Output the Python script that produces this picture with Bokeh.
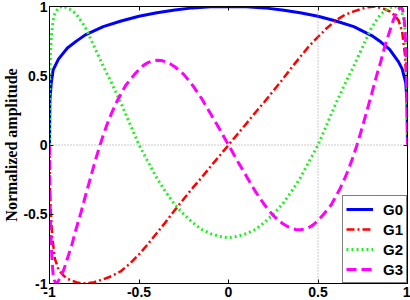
from bokeh.plotting import figure
from bokeh.models import Range1d, LinearAxis, Span, FixedTicker, Legend, LegendItem
from bokeh.embed import file_html
from bokeh.resources import INLINE

# ---- data ----
x0 = [-1, -0.998, -0.99, -0.98, -0.95, -0.9, -0.85, -0.8, -0.7, -0.6, -0.5, -0.4, -0.3, -0.2, -0.1, 0,
      0.1, 0.2, 0.3, 0.4, 0.5, 0.6, 0.7, 0.8, 0.85, 0.9, 0.95, 0.97, 0.99, 0.997, 1]
y0 = [0, 0.32, 0.45, 0.54, 0.62, 0.70, 0.75, 0.795, 0.855, 0.895, 0.93, 0.955, 0.975, 0.99, 0.998, 1,
      0.998, 0.99, 0.975, 0.955, 0.93, 0.895, 0.855, 0.79, 0.745, 0.69, 0.60, 0.55, 0.45, 0.32, 0]

x1 = [-1, -0.998, -0.995, -0.985, -0.97, -0.95, -0.92, -0.9, -0.875, -0.85, -0.82, -0.78, -0.75, -0.7, -0.65,
      -0.6, -0.55, -0.5, -0.45, -0.4, -0.35, -0.3, -0.25, -0.2, -0.15, -0.1, -0.05, 0,
      0.05, 0.1, 0.15, 0.2, 0.25, 0.3, 0.35, 0.4, 0.45, 0.5, 0.55, 0.6, 0.65, 0.7, 0.75, 0.78, 0.82,
      0.85, 0.875, 0.9, 0.92, 0.95, 0.97, 0.985, 0.995, 0.998, 1]
y1 = [0, -0.3, -0.42, -0.66, -0.82, -0.9, -0.945, -0.965, -0.98, -0.99, -1.0, -0.997, -0.99, -0.97, -0.945,
      -0.91, -0.855, -0.79, -0.715, -0.635, -0.555, -0.47, -0.39, -0.31, -0.235, -0.155, -0.078, 0,
      0.078, 0.155, 0.235, 0.31, 0.39, 0.47, 0.555, 0.635, 0.715, 0.78, 0.845, 0.9, 0.94, 0.965, 0.985, 0.995, 1.0,
      0.99, 0.98, 0.965, 0.945, 0.9, 0.82, 0.66, 0.42, 0.3, 0]

x2 = [-1, -0.998, -0.995, -0.99, -0.98, -0.97, -0.95, -0.93, -0.91, -0.88, -0.85, -0.8, -0.75, -0.7, -0.65,
      -0.6, -0.55, -0.5, -0.45, -0.4, -0.35, -0.3, -0.25, -0.2, -0.15, -0.1, -0.05, 0,
      0.05, 0.1, 0.15, 0.2, 0.25, 0.3, 0.35, 0.4, 0.45, 0.5, 0.55, 0.6, 0.65, 0.7, 0.75, 0.8,
      0.85, 0.88, 0.91, 0.93, 0.95, 0.97, 0.98, 0.99, 0.995, 0.998, 1]
y2 = [0, 0.45, 0.65, 0.78, 0.9, 0.95, 0.99, 1.0, 0.995, 0.975, 0.945, 0.85, 0.71, 0.57, 0.44,
      0.30, 0.15, 0, -0.12, -0.24, -0.34, -0.43, -0.50, -0.56, -0.61, -0.64, -0.66, -0.67,
      -0.66, -0.64, -0.61, -0.56, -0.50, -0.43, -0.34, -0.24, -0.12, 0, 0.15, 0.30, 0.44, 0.57, 0.71, 0.85,
      0.945, 0.975, 0.995, 1.0, 0.99, 0.95, 0.9, 0.78, 0.65, 0.45, 0]

x3 = [-1, -0.998, -0.995, -0.99, -0.985, -0.98, -0.972, -0.965, -0.955, -0.94, -0.92, -0.9, -0.875, -0.85,
      -0.825, -0.8, -0.775, -0.75, -0.725, -0.7, -0.675, -0.65, -0.625, -0.6, -0.575, -0.55, -0.525, -0.5,
      -0.475, -0.45, -0.425, -0.4, -0.375, -0.35, -0.325, -0.3, -0.25, -0.2, -0.15, -0.1, -0.05, 0,
      0.05, 0.1, 0.15, 0.2, 0.25, 0.3, 0.325, 0.35, 0.375, 0.4, 0.425, 0.45, 0.475, 0.5,
      0.525, 0.55, 0.575, 0.6, 0.625, 0.65, 0.675, 0.7, 0.725, 0.75, 0.775, 0.8,
      0.825, 0.85, 0.875, 0.9, 0.92, 0.94, 0.955, 0.965, 0.972, 0.98, 0.985, 0.99, 0.995, 0.998, 1]
y3 = [0, -0.35, -0.55, -0.72, -0.85, -0.93, -0.98, -1.0, -0.99, -0.96, -0.9, -0.82, -0.72, -0.6,
      -0.49, -0.37, -0.255, -0.14, -0.03, 0.07, 0.16, 0.24, 0.31, 0.37, 0.43, 0.47, 0.51, 0.545,
      0.575, 0.595, 0.608, 0.612, 0.61, 0.6, 0.585, 0.565, 0.51, 0.43, 0.335, 0.225, 0.115, 0,
      -0.115, -0.225, -0.335, -0.43, -0.51, -0.565, -0.585, -0.6, -0.61, -0.612, -0.608, -0.595, -0.575, -0.545,
      -0.51, -0.47, -0.43, -0.37, -0.31, -0.24, -0.16, -0.07, 0.03, 0.14, 0.255, 0.37,
      0.49, 0.6, 0.72, 0.82, 0.9, 0.96, 0.99, 1.0, 0.98, 0.93, 0.85, 0.72, 0.55, 0.35, 0]

tick_vals = [-1, -0.5, 0, 0.5, 1]
tick_labels = {-1: "-1", -0.5: "-0.5", 0: "0", 0.5: "0.5", 1: "1"}
series_names = ["G0", "G1", "G2", "G3"]

p = figure(width=410, height=300, output_backend="svg", toolbar_location=None,
           x_range=Range1d(-1, 1), y_range=Range1d(-1, 1),
           min_border_left=0, min_border_right=3, min_border_top=6, min_border_bottom=17,
           x_axis_location=None, y_axis_location=None)
p.background_fill_color = "white"
p.border_fill_color = "white"
p.outline_line_color = "black"
p.outline_line_width = 1
p.xgrid.visible = False
p.ygrid.visible = False

def style_axis(ax):
    ax.ticker = FixedTicker(ticks=tick_vals)
    ax.major_label_overrides = tick_labels
    ax.major_tick_in = 4
    ax.major_tick_out = 0
    ax.minor_tick_line_color = None
    ax.axis_line_color = "black"
    ax.major_tick_line_color = "black"
    ax.major_label_text_font = "Liberation Sans"
    ax.major_label_text_font_style = "bold"
    ax.major_label_text_font_size = "14px"
    ax.major_label_text_color = "black"
    ax.major_label_standoff = 3

def style_mirror_axis(ax):
    # ticks only (drawn as minor ticks so no labels are produced)
    ax.ticker = FixedTicker(ticks=[], minor_ticks=tick_vals)
    ax.minor_tick_in = 4
    ax.minor_tick_out = 0
    ax.minor_tick_line_color = "black"
    ax.major_tick_line_color = None
    ax.axis_line_color = "black"
    ax.major_label_standoff = 0

xb = LinearAxis(); style_axis(xb); p.add_layout(xb, "below")
yl = LinearAxis(); style_axis(yl); p.add_layout(yl, "left")
yl.major_label_standoff = 2
yl.axis_label = "Normalized amplitude"
yl.axis_label_text_font = "Liberation Serif"
yl.axis_label_text_font_style = "bold"
yl.axis_label_text_font_size = "16px"
yl.axis_label_text_color = "black"
yl.axis_label_standoff = 0
xt = LinearAxis(); style_mirror_axis(xt); p.add_layout(xt, "above")
yr = LinearAxis(); style_mirror_axis(yr); p.add_layout(yr, "right")

p.add_layout(Span(location=0, dimension="width", line_color="#999999", line_dash="1 2", line_width=1))
p.add_layout(Span(location=0.5, dimension="height", line_color="#999999", line_dash="1 2", line_width=1))

r0 = p.line(x0, y0, line_color="#0000ff", line_width=3)
r1 = p.line(x1, y1, line_color="#ff0000", line_width=2.5, line_dash="8 3 2 3")
r2 = p.line(x2, y2, line_color="#22ee22", line_width=3, line_dash="2 3")
r3 = p.line(x3, y3, line_color="#ff00ff", line_width=3, line_dash="10 5")

legend = Legend(items=[LegendItem(label=n, renderers=[r]) for n, r in zip(series_names, [r0, r1, r2, r3])],
                location="bottom_right")
legend.label_text_font = "Liberation Sans"
legend.label_text_font_style = "bold"
legend.label_text_font_size = "15px"
legend.label_text_color = "black"
legend.glyph_width = 27
legend.glyph_height = 20
legend.label_height = 20
legend.label_standoff = 10
legend.spacing = 0
legend.padding = 3
legend.margin = 0
legend.border_line_color = "black"
legend.border_line_width = 1
legend.background_fill_alpha = 1
p.add_layout(legend, "center")

open("out.html", "w").write(file_html(p, INLINE))
